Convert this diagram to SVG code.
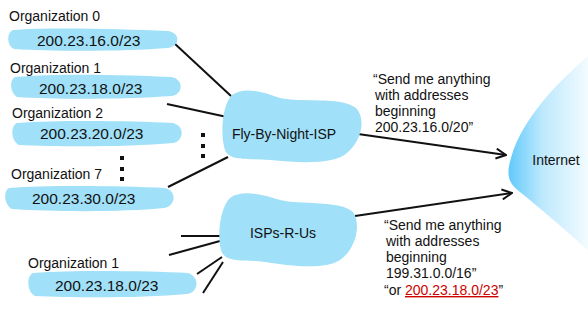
<svg xmlns="http://www.w3.org/2000/svg" width="588" height="323" viewBox="0 0 588 323">
  <style>
    text { font-family: "Liberation Sans", Arial, sans-serif; fill: #111; }
    .lbl { font-size: 14px; }
    .addr { font-size: 15.5px; }
    .isp { font-size: 14px; text-anchor: middle; }
    .blob { fill: #a0e0f8; }
    .link { stroke: #111; stroke-width: 2; fill: none; }
    .dot { fill: #111; }
    .red { fill: #cc0000; text-decoration: underline; }
  </style>
  <defs>
    <linearGradient id="netGrad" x1="505" y1="0" x2="588" y2="0" gradientUnits="userSpaceOnUse">
      <stop offset="0" stop-color="#58c6fa"/>
      <stop offset="0.45" stop-color="#bde9fd"/>
      <stop offset="1" stop-color="#f3fbff"/>
    </linearGradient>
    <marker id="arrow" viewBox="0 0 12 12" refX="11" refY="6" markerWidth="12" markerHeight="12" markerUnits="userSpaceOnUse" orient="auto">
      <path d="M1,1 L11,6 L1,11" fill="none" stroke="#111" stroke-width="2"/>
    </marker>
  </defs>

  <!-- connectors -->
  <g id="connectors">
    <line class="link" x1="174" y1="43" x2="231" y2="96"/>
    <line class="link" x1="167" y1="104" x2="227" y2="117"/>
    <line class="link" x1="168" y1="187" x2="228" y2="157"/>
    <line class="link" x1="181" y1="236" x2="220" y2="236"/>
    <line class="link" x1="169" y1="255" x2="220" y2="241"/>
    <line class="link" x1="197" y1="274" x2="222" y2="257"/>
    <line class="link" x1="203" y1="293" x2="223" y2="262"/>
    <line class="link" x1="358" y1="134" x2="506" y2="155" marker-end="url(#arrow)"/>
    <line class="link" x1="355" y1="216" x2="512" y2="193" marker-end="url(#arrow)"/>
  </g>

  <!-- Internet -->
  <g id="internet">
    <path d="M588,56 C560,80 522,118 511,158 C506,175 508,183 520,192 C540,208 565,230 588,250 Z" fill="url(#netGrad)"/>
    <text class="isp" x="556" y="165">Internet</text>
  </g>

  <!-- ISPs -->
  <g id="fly-by-night-isp">
    <path class="blob" d="M232,95 C245,86 262,92 280,98 C300,103 340,96 356,108 C366,118 362,140 348,152 C335,165 300,163 270,160 C250,158 230,162 225,150 C220,135 222,105 232,95 Z"/>
    <text class="isp" x="284" y="139">Fly-By-Night-ISP</text>
  </g>
  <g id="isps-r-us">
    <path class="blob" d="M230,198 C240,190 260,193 280,200 C300,205 340,200 353,212 C362,225 355,250 340,260 C325,270 290,266 265,262 C245,259 225,264 221,250 C217,235 220,208 230,198 Z"/>
    <text class="isp" x="283" y="238">ISPs-R-Us</text>
  </g>

  <!-- organizations -->
  <g id="org0">
    <text class="lbl" x="9" y="21">Organization 0</text>
    <path class="blob" d="M13,30 C50,27 120,29 168,31 C181,33 180,46 168,48 C130,51 60,52 14,49 C7,46 6,33 13,30 Z"/>
    <text class="addr" x="37" y="46">200.23.16.0/23</text>
  </g>
  <g id="org1">
    <text class="lbl" x="10" y="73">Organization 1</text>
    <path class="blob" d="M15,77 C60,73 130,75 172,77 C184,80 183,94 172,96 C130,99 60,100 17,97 C10,93 9,80 15,77 Z"/>
    <text class="addr" x="39" y="94">200.23.18.0/23</text>
  </g>
  <g id="org2">
    <text class="lbl" x="12" y="118">Organization 2</text>
    <path class="blob" d="M17,123 C60,120 130,121 173,123 C185,126 184,141 173,143 C130,147 60,147 19,145 C11,141 10,126 17,123 Z"/>
    <text class="addr" x="40" y="139">200.23.20.0/23</text>
  </g>
  <g id="org-dots">
    <rect class="dot" x="120" y="156" width="4" height="4"/>
    <rect class="dot" x="120" y="167" width="4" height="4"/>
    <rect class="dot" x="120" y="177" width="4" height="4"/>
    <rect class="dot" x="201" y="133" width="4" height="4"/>
    <rect class="dot" x="201" y="144" width="4" height="4"/>
    <rect class="dot" x="201" y="154" width="4" height="4"/>
  </g>
  <g id="org7">
    <text class="lbl" x="11" y="179">Organization 7</text>
    <path class="blob" d="M9,188 C50,185 120,186 165,188 C177,191 176,206 164,208 C125,212 55,212 12,209 C4,205 3,191 9,188 Z"/>
    <text class="addr" x="32" y="204">200.23.30.0/23</text>
  </g>
  <g id="org1-moved">
    <text class="lbl" x="28" y="268">Organization 1</text>
    <path class="blob" d="M33,273 C75,270 145,271 188,273 C200,277 199,292 187,294 C145,298 75,298 35,296 C27,292 26,276 33,273 Z"/>
    <text class="addr" x="55" y="291">200.23.18.0/23</text>
  </g>

  <!-- route advertisements -->
  <g id="ad-fly-by-night" class="lbl">
    <text class="lbl" x="373" y="84">“Send me anything</text>
    <text class="lbl" x="375" y="100">with addresses</text>
    <text class="lbl" x="375" y="116">beginning</text>
    <text class="lbl" x="375" y="132">200.23.16.0/20”</text>
  </g>
  <g id="ad-isps-r-us">
    <text class="lbl" x="384" y="230">“Send me anything</text>
    <text class="lbl" x="386" y="246">with addresses</text>
    <text class="lbl" x="386" y="262">beginning</text>
    <text class="lbl" x="386" y="278">199.31.0.0/16”</text>
    <text class="lbl" x="384" y="295">“or <tspan class="red">200.23.18.0/23</tspan>”</text>
  </g>
</svg>
